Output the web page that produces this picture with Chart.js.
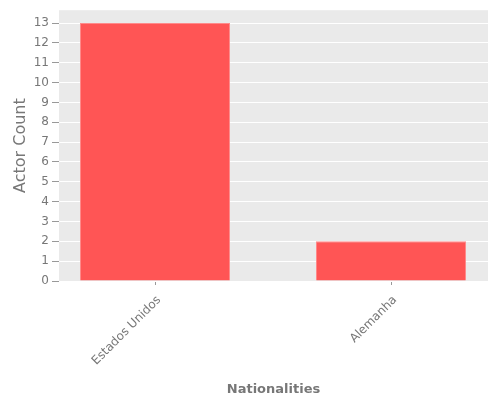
<!DOCTYPE html>
<html>
<head>
<meta charset="utf-8">
<script src="https://cdn.jsdelivr.net/npm/chart.js@4"></script>
<style>
  body { margin: 0; background: #fff; }
  #wrap { width: 500px; height: 400px; position: relative; }
</style>
</head>
<body>
<div id="wrap"><canvas id="chart"></canvas></div>
<script>
const nationalities = ['Estados Unidos', 'Alemanha'];
const actorCounts = [13, 2];
const yTicks = [0, 1, 2, 3, 4, 5, 6, 7, 8, 9, 10, 11, 12, 13];

// grey ggplot-like panel behind the chart area
const panelBackground = {
  id: 'panelBackground',
  beforeDraw(chart) {
    const { ctx, chartArea: a } = chart;
    ctx.save();
    ctx.fillStyle = '#EAEAEA';
    ctx.fillRect(a.left, a.top, a.right - a.left, a.bottom - a.top);
    ctx.restore();
  }
};

const tickFont = { family: 'DejaVu Sans', size: 12 };

new Chart(document.getElementById('chart'), {
  type: 'bar',
  data: {
    datasets: [{
      data: nationalities.map((n, i) => ({ x: i, y: actorCounts[i] })),
      backgroundColor: '#FF5555',
      borderColor: '#FF8A8A',
      borderWidth: 1,
      barPercentage: 0.636,
      categoryPercentage: 1
    }]
  },
  options: {
    responsive: true,
    maintainAspectRatio: false,
    animation: false,
    layout: { padding: { left: 7, right: 12, top: 10, bottom: 0 } },
    plugins: {
      legend: { display: false },
      tooltip: { enabled: false }
    },
    scales: {
      x: {
        type: 'linear',
        offset: false,
        min: -0.407,
        max: 1.411,
        afterBuildTicks: (axis) => { axis.ticks = nationalities.map((n, i) => ({ value: i })); },
        afterFit: (axis) => { axis.height = 119; },
        border: { display: false },
        grid: { offset: false, drawOnChartArea: false, drawTicks: true, tickLength: 4, tickColor: '#999' },
        ticks: {
          color: '#777',
          font: tickFont,
          minRotation: 45,
          maxRotation: 45,
          padding: 8,
          labelOffset: 4,
          callback: (v) => nationalities[v]
        },
        title: {
          display: true, text: 'Nationalities', color: '#777',
          font: { family: 'DejaVu Sans', size: 13, weight: 'bold' },
          padding: { top: 4, bottom: 3 }
        }
      },
      y: {
        min: 0,
        max: 13.65,
        afterBuildTicks: (axis) => { axis.ticks = yTicks.map(v => ({ value: v })); },
        afterFit: (axis) => { axis.width = 52; },
        border: { display: false },
        grid: { color: '#FFFFFF', lineWidth: 1, tickLength: 7, tickColor: '#999' },
        ticks: { color: '#777', font: tickFont, padding: 3 },
        title: {
          display: true, text: 'Actor Count', color: '#777',
          font: { family: 'DejaVu Sans', size: 16 }
        }
      }
    }
  },
  plugins: [panelBackground]
});
</script>
</body>
</html>
